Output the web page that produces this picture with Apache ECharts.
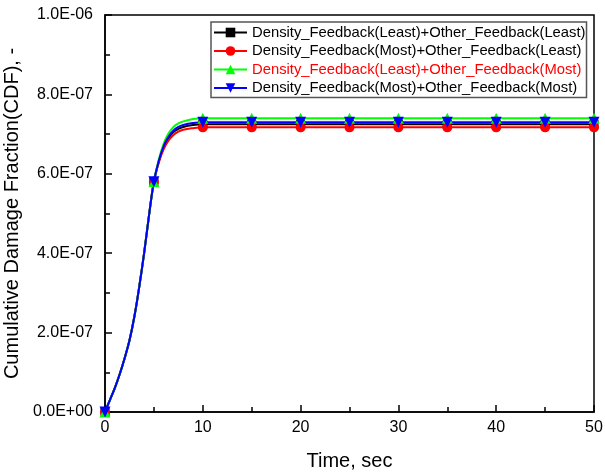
<!DOCTYPE html>
<html>
<head>
<meta charset="utf-8">
<script src="https://cdn.jsdelivr.net/npm/echarts@6/dist/echarts.min.js"></script>
<style>
html,body{margin:0;padding:0;background:#fff;}
#chart{width:605px;height:472px;}
</style>
</head>
<body>
<div id="chart"></div>
<script>
// Time samples, seconds
const times = [0, 0.5, 1, 1.5, 2, 2.5, 3, 3.5, 4, 4.5, 5, 5.5, 6, 6.5, 7, 7.5, 8, 9, 10, 15, 20, 25, 30, 35, 40, 45, 50];

// Cumulative damage fraction, units of 1e-7
const cdfLeastLeast = [0, 0.30, 0.60, 0.95, 1.35, 1.80, 2.40, 3.15, 4.00, 4.95, 5.80, 6.31, 6.67, 6.90, 7.05, 7.13, 7.18, 7.23, 7.25, 7.25, 7.25, 7.25, 7.25, 7.25, 7.25, 7.25, 7.25];
const cdfMostLeast  = [0, 0.30, 0.60, 0.95, 1.35, 1.80, 2.40, 3.15, 4.00, 4.95, 5.80, 6.28, 6.62, 6.84, 6.98, 7.06, 7.11, 7.15, 7.17, 7.17, 7.17, 7.17, 7.17, 7.17, 7.17, 7.17, 7.17];
const cdfLeastMost  = [0, 0.30, 0.60, 0.95, 1.35, 1.80, 2.40, 3.15, 4.00, 4.95, 5.80, 6.36, 6.76, 7.02, 7.18, 7.27, 7.32, 7.38, 7.40, 7.40, 7.40, 7.40, 7.40, 7.40, 7.40, 7.40, 7.40];
const cdfMostMost   = [0, 0.30, 0.60, 0.95, 1.35, 1.80, 2.40, 3.15, 4.00, 4.95, 5.80, 6.33, 6.70, 6.94, 7.09, 7.18, 7.23, 7.28, 7.30, 7.30, 7.30, 7.30, 7.30, 7.30, 7.30, 7.30, 7.30];

const seriesNames = [
  'Density_Feedback(Least)+Other_Feedback(Least)',
  'Density_Feedback(Most)+Other_Feedback(Least)',
  'Density_Feedback(Least)+Other_Feedback(Most)',
  'Density_Feedback(Most)+Other_Feedback(Most)'
];

const yTickLabels = ['0.0E+00', '2.0E-07', '4.0E-07', '6.0E-07', '8.0E-07', '1.0E-06'];

const FONT = 'Liberation Sans, Arial, sans-serif';

// markers only every 5 seconds
function isMarkerTime(t) {
  return Math.abs(t / 5 - Math.round(t / 5)) < 1e-9;
}

function points(vals) {
  return times.map((t, i) => {
    const item = { value: [t, vals[i] * 1e-7] };
    if (!isMarkerTime(t)) item.symbol = 'none';
    return item;
  });
}

function makeSeries(name, vals, color, symbol, size) {
  return {
    name: name,
    type: 'line',
    data: points(vals),
    smooth: 0.4,
    showAllSymbol: true,
    symbol: symbol,
    symbolSize: size,
    itemStyle: { color: color, borderWidth: 0 },
    lineStyle: { color: color, width: 2 },
    emphasis: { disabled: true },
    animation: false
  };
}

const chart = echarts.init(document.getElementById('chart'), null, { renderer: 'canvas' });

chart.setOption({
  backgroundColor: '#fff',
  animation: false,
  grid: {
    left: 105, right: 11, top: 15, bottom: 60,
    outerBoundsMode: 'none',
    containLabel: false,
    show: true, borderColor: '#000', borderWidth: 1.5, backgroundColor: 'transparent'
  },
  legend: {
    orient: 'vertical',
    left: 211, top: 22,
    padding: [3, 1, 2, 2],
    itemGap: 3.5,
    itemWidth: 33, itemHeight: 12,
    backgroundColor: '#fff',
    borderColor: '#555', borderWidth: 1.5, borderRadius: 0,
    textStyle: { fontFamily: FONT, fontSize: 14.8, color: '#000' },
    data: [
      { name: seriesNames[0] },
      { name: seriesNames[1] },
      { name: seriesNames[2], textStyle: { color: '#ff0000' } },
      { name: seriesNames[3] }
    ]
  },
  xAxis: {
    type: 'value',
    min: 0, max: 50, interval: 10,
    name: 'Time, sec',
    nameLocation: 'middle',
    nameGap: 39,
    nameTextStyle: { fontFamily: FONT, fontSize: 20, color: '#000' },
    axisLine: { onZero: false, lineStyle: { color: '#000', width: 1.5 } },
    axisTick: { inside: true, length: 7, lineStyle: { color: '#000', width: 1.5 } },
    minorTick: { show: true, splitNumber: 2, length: 5, lineStyle: { color: '#000', width: 1.5 } },
    axisLabel: { fontFamily: FONT, fontSize: 16, color: '#000', margin: 8 },
    splitLine: { show: false }
  },
  yAxis: {
    type: 'value',
    min: 0, max: 1e-6, interval: 2e-7,
    name: 'Cumulative Damage Fraction(CDF), -',
    nameLocation: 'middle',
    nameGap: 74,
    nameTextStyle: { fontFamily: FONT, fontSize: 20, color: '#000' },
    axisLine: { onZero: false, lineStyle: { color: '#000', width: 1.5 } },
    axisTick: { inside: true, length: 7, lineStyle: { color: '#000', width: 1.5 } },
    minorTick: { show: true, splitNumber: 2, length: 5, lineStyle: { color: '#000', width: 1.5 } },
    axisLabel: {
      fontFamily: FONT, fontSize: 16, color: '#000', margin: 12,
      formatter: function (v) { return yTickLabels[Math.round(v / 2e-7)]; }
    },
    splitLine: { show: false }
  },
  series: [
    makeSeries(seriesNames[0], cdfLeastLeast, '#000000', 'rect', 9),
    makeSeries(seriesNames[1], cdfMostLeast, '#ff0000', 'circle', 10),
    makeSeries(seriesNames[2], cdfLeastMost, '#00ff00', 'triangle', 11),
    makeSeries(seriesNames[3], cdfMostMost, '#0000ff', 'path://M0,0 L10,0 L5,9 Z', 11)
  ]
});
</script>
</body>
</html>
